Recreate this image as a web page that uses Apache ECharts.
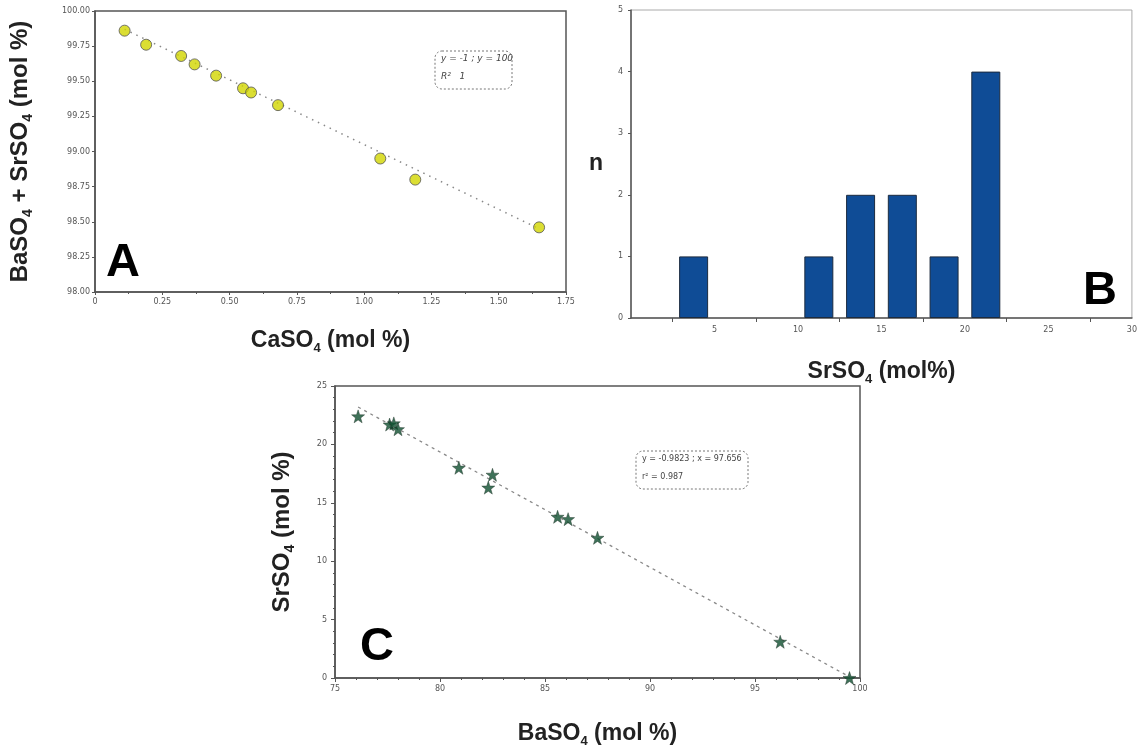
<!DOCTYPE html>
<html>
<head>
<meta charset="utf-8">
<script src="https://cdn.jsdelivr.net/npm/echarts@6/dist/echarts.min.js"></script>
<style>
  html, body { margin: 0; padding: 0; background: #fff; }
  #chart { width: 1140px; height: 749px; }
</style>
</head>
<body>
<div id="chart"></div>
<script>
// panel A: CaSO4 vs BaSO4+SrSO4
var caso4 = [0.11, 0.19, 0.32, 0.37, 0.45, 0.55, 0.58, 0.68, 1.06, 1.19, 1.65];
var baSrSum = [99.86, 99.76, 99.68, 99.62, 99.54, 99.45, 99.42, 99.33, 98.95, 98.80, 98.46];
var fitA = [[0.11, 99.87], [1.65, 98.45]];

// panel B: histogram of SrSO4
var binCenters = [3.75, 11.25, 13.75, 16.25, 18.75, 21.25];
var counts = [1, 1, 2, 2, 1, 4];
var binLabels = [5, 10, 15, 20, 25, 30];
var binTicks = [2.5, 7.5, 12.5, 17.5, 22.5, 27.5];

// panel C: BaSO4 vs SrSO4
var baso4 = [76.1, 77.6, 77.8, 78.0, 80.9, 82.3, 82.5, 85.6, 86.1, 87.5, 96.2, 99.5];
var srso4 = [22.4, 21.7, 21.8, 21.3, 18.0, 16.3, 17.4, 13.8, 13.6, 12.0, 3.1, 0.0];
var fitC = [[76.1, 23.2], [99.6, 0]];

function pairs(xs, ys) {
  return xs.map(function (x, i) { return [x, ys[i]]; });
}

var titleFont = 'Liberation Sans';
var rich = {
  t: { fontSize: 23, fontWeight: 'bold', color: '#222', lineHeight: 28, fontFamily: titleFont },
  s: { fontSize: 13, fontWeight: 'bold', color: '#222', lineHeight: 13, verticalAlign: 'bottom', fontFamily: titleFont }
};
var richY = {
  t: { fontSize: 24, fontWeight: 'bold', color: '#222', lineHeight: 29, fontFamily: titleFont },
  s: { fontSize: 14, fontWeight: 'bold', color: '#222', lineHeight: 14, verticalAlign: 'bottom', fontFamily: titleFont }
};
var tickLabel = { fontSize: 8, color: '#555', fontFamily: 'DejaVu Sans' };
var axisLine = { show: true, onZero: false, lineStyle: { color: '#555', width: 1.5 } };
var star = 'path://M0,-10 L2.35,-3.24 L9.51,-3.09 L3.8,1.24 L5.88,8.09 L0,4 L-5.88,8.09 L-3.8,1.24 L-9.51,-3.09 L-2.35,-3.24 Z';

var chart = echarts.init(document.getElementById('chart'));
var option = {
  animation: false,
  backgroundColor: '#fff',
  grid: [
    { left: 95, top: 11, width: 471, height: 281, show: true, borderColor: '#555', borderWidth: 1.5 },
    { left: 631, top: 10, width: 501, height: 308, show: true, borderColor: '#aaa', borderWidth: 1 },
    { left: 335, top: 386, width: 525, height: 293, show: true, borderColor: '#555', borderWidth: 1.5 }
  ],
  xAxis: [{
    gridIndex: 0, type: 'value', min: 0, max: 1.75, interval: 0.25,
    axisLine: axisLine,
    axisTick: { show: true, length: 3, lineStyle: { color: '#555' } },
    minorTick: { show: true, splitNumber: 2, length: 2, lineStyle: { color: '#555' } },
    splitLine: { show: false },
    axisLabel: Object.assign({ margin: 6, formatter: function (v) { return v === 0 ? '0' : v.toFixed(2); } }, tickLabel),
    name: '{t|CaSO}{s|4}{t| (mol %)}', nameLocation: 'middle', nameGap: 35,
    nameTextStyle: { rich: rich }
  }, {
    gridIndex: 1, type: 'value', min: 0, max: 30,
    axisLine: axisLine,
    axisTick: { show: true, length: 4, customValues: binTicks, lineStyle: { color: '#555' } },
    splitLine: { show: false },
    axisLabel: Object.assign({ margin: 8, customValues: binLabels }, tickLabel),
    name: '{t|SrSO}{s|4}{t| (mol%)}', nameLocation: 'middle', nameGap: 40,
    nameTextStyle: { rich: rich }
  }, {
    gridIndex: 2, type: 'value', min: 75, max: 100, interval: 5,
    axisLine: axisLine,
    axisTick: { show: true, length: 4, lineStyle: { color: '#555' } },
    minorTick: { show: true, splitNumber: 5, length: 2, lineStyle: { color: '#555' } },
    splitLine: { show: false },
    axisLabel: Object.assign({ margin: 7 }, tickLabel),
    name: '{t|BaSO}{s|4}{t| (mol %)}', nameLocation: 'middle', nameGap: 42,
    nameTextStyle: { rich: rich }
  }],
  yAxis: [{
    gridIndex: 0, type: 'value', min: 98, max: 100, interval: 0.25,
    axisLine: axisLine,
    axisTick: { show: true, length: 3, lineStyle: { color: '#555' } },
    splitLine: { show: false },
    axisLabel: Object.assign({ margin: 5, formatter: function (v) { return v.toFixed(2); } }, tickLabel),
    name: '{t|BaSO}{s|4}{t| + SrSO}{s|4}{t| (mol %)}', nameLocation: 'middle', nameGap: 60,
    nameTextStyle: { rich: richY }
  }, {
    gridIndex: 1, type: 'value', min: 0, max: 5, interval: 1,
    axisLine: axisLine,
    axisTick: { show: true, length: 3, lineStyle: { color: '#555' } },
    splitLine: { show: false },
    axisLabel: Object.assign({ margin: 8 }, tickLabel),
    name: '{t|n}', nameLocation: 'middle', nameGap: 28, nameRotate: 0,
    nameTextStyle: { rich: rich }
  }, {
    gridIndex: 2, type: 'value', min: 0, max: 25, interval: 5,
    axisLine: axisLine,
    axisTick: { show: true, length: 4, lineStyle: { color: '#555' } },
    minorTick: { show: true, splitNumber: 5, length: 2, lineStyle: { color: '#555' } },
    splitLine: { show: false },
    axisLabel: Object.assign({ margin: 8 }, tickLabel),
    name: '{t|SrSO}{s|4}{t| (mol %)}', nameLocation: 'middle', nameGap: 38,
    nameTextStyle: { rich: richY }
  }],
  series: [{
    type: 'line', xAxisIndex: 0, yAxisIndex: 0, data: fitA, symbol: 'none',
    lineStyle: { color: '#888', width: 1.5, type: [1.5, 5] }, z: 2
  }, {
    type: 'scatter', xAxisIndex: 0, yAxisIndex: 0, data: pairs(caso4, baSrSum),
    symbol: 'circle', symbolSize: 11,
    itemStyle: { color: '#d2d600', borderColor: '#555', borderWidth: 1 }, z: 3
  }, {
    type: 'bar', xAxisIndex: 1, yAxisIndex: 1, data: pairs(binCenters, counts),
    barWidth: 29,
    itemStyle: { color: '#0f4c96', borderColor: '#1c2b3f', borderWidth: 1 }
  }, {
    type: 'line', xAxisIndex: 2, yAxisIndex: 2, data: fitC, symbol: 'none',
    lineStyle: { color: '#888', width: 1.3, type: [3, 4] }, z: 2
  }, {
    type: 'scatter', xAxisIndex: 2, yAxisIndex: 2, data: pairs(baso4, srso4),
    symbol: star, symbolSize: 13,
    itemStyle: { color: '#0f4f30', borderColor: '#1a2a20', borderWidth: 0.5 }, z: 3
  }],
  graphic: [
    { type: 'rect', shape: { x: 435, y: 51, width: 77, height: 38, r: 7 },
      style: { fill: 'none', stroke: '#777', lineWidth: 1, lineDash: [2, 2] } },
    { type: 'text', x: 441, y: 54, style: { text: 'y = -1 ; y = 100', fontSize: 9, fontStyle: 'italic', fill: '#444', fontFamily: 'DejaVu Sans' } },
    { type: 'text', x: 441, y: 72, style: { text: 'R²   1', fontSize: 9, fontStyle: 'italic', fill: '#444', fontFamily: 'DejaVu Sans' } },
    { type: 'rect', shape: { x: 636, y: 451, width: 112, height: 38, r: 7 },
      style: { fill: 'none', stroke: '#777', lineWidth: 1, lineDash: [2, 2] } },
    { type: 'text', x: 642, y: 455, style: { text: 'y = -0.9823 ; x = 97.656', fontSize: 8, fill: '#444', fontFamily: 'DejaVu Sans' } },
    { type: 'text', x: 642, y: 473, style: { text: 'r² = 0.987', fontSize: 8, fill: '#444', fontFamily: 'DejaVu Sans' } },
    { type: 'text', x: 106, y: 240, style: { text: 'A', fontSize: 47, fontWeight: 'bold', fill: '#000', fontFamily: titleFont } },
    { type: 'text', x: 1083, y: 268, style: { text: 'B', fontSize: 47, fontWeight: 'bold', fill: '#000', fontFamily: titleFont } },
    { type: 'text', x: 360, y: 624, style: { text: 'C', fontSize: 47, fontWeight: 'bold', fill: '#000', fontFamily: titleFont } }
  ]
};
chart.setOption(option);
</script>
</body>
</html>
